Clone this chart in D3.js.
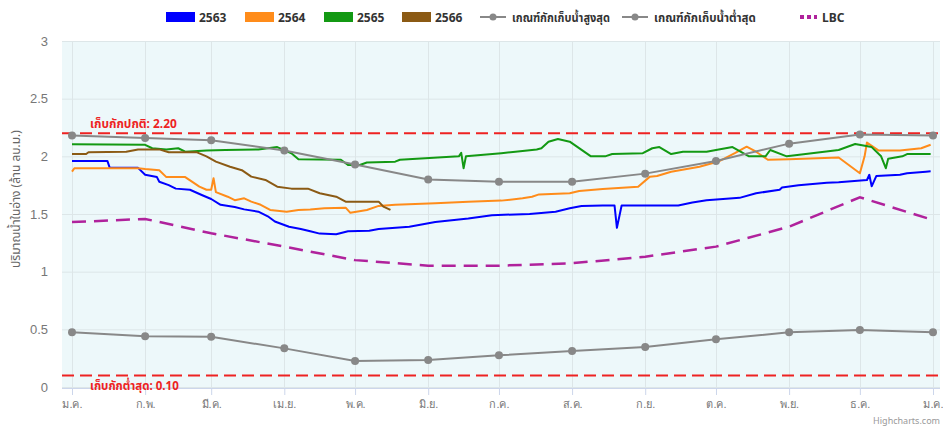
<!DOCTYPE html>
<html><head><meta charset="utf-8">
<script src="https://cdn.jsdelivr.net/npm/d3@7/dist/d3.min.js"></script>
<style>
html,body{margin:0;padding:0;background:#fff;}
svg{display:block;font-family:"Noto Sans","Noto Sans Thai",Tahoma,sans-serif;}
</style></head><body>
<svg id="chart" width="943" height="429"></svg>
<script>
// ---------- DATA ----------
const monthLabels = ["ม.ค.","ก.พ.","มี.ค.","เม.ย.","พ.ค.","มิ.ย.","ก.ค.","ส.ค.","ก.ย.","ต.ค.","พ.ย.","ธ.ค.","ม.ค."];
const yTicks = [0, 0.5, 1, 1.5, 2, 2.5, 3];
const ruleDates = ["2021-01-01","2021-02-01","2021-03-01","2021-04-01","2021-05-01","2021-06-01","2021-07-01","2021-08-01","2021-09-01","2021-10-01","2021-11-01","2021-12-01","2022-01-01"];
const ruleMax = [2.18, 2.16, 2.14, 2.05, 1.93, 1.80, 1.78, 1.78, 1.85, 1.96, 2.11, 2.19, 2.18];
const ruleMin = [0.474, 0.44, 0.435, 0.335, 0.225, 0.234, 0.275, 0.312, 0.347, 0.414, 0.474, 0.494, 0.474];
const lbc = [1.43, 1.457, 1.333, 1.217, 1.10, 1.052, 1.052, 1.073, 1.13, 1.217, 1.39, 1.645, 1.448];
const normalLevel = 2.20;
const minLevel = 0.10;

const s2563 = [["01-01",1.96],["01-16",1.96],["01-17",1.90],["01-29",1.90],["02-01",1.84],["02-06",1.82],["02-07",1.78],["02-11",1.75],["02-14",1.72],["02-20",1.71],["02-25",1.665],["03-01",1.63],["03-05",1.58],["03-11",1.56],["03-15",1.54],["03-21",1.52],["03-25",1.48],["03-28",1.435],["04-03",1.39],["04-08",1.37],["04-12",1.35],["04-16",1.33],["04-23",1.325],["04-28",1.35],["05-07",1.355],["05-11",1.37],["05-24",1.39],["06-04",1.43],["06-18",1.46],["06-28",1.49],["07-14",1.50],["07-25",1.52],["07-31",1.55],["08-05",1.57],["08-14",1.573],["08-19",1.573],["08-20",1.38],["08-22",1.573],["09-15",1.573],["09-21",1.60],["09-27",1.62],["10-11",1.64],["10-18",1.68],["10-28",1.71],["10-29",1.73],["11-05",1.75],["11-17",1.77],["11-22",1.775],["12-04",1.795],["12-05",1.84],["12-06",1.74],["12-08",1.83],["12-18",1.84],["12-21",1.853],["12-29",1.867],["12-31",1.87]];
const s2564 = [["01-01",1.867],["01-02",1.897],["01-29",1.897],["02-01",1.89],["02-07",1.88],["02-10",1.82],["02-18",1.82],["02-24",1.737],["02-27",1.71],["03-01",1.71],["03-02",1.81],["03-03",1.69],["03-08",1.65],["03-11",1.62],["03-15",1.636],["03-18",1.607],["03-22",1.58],["03-26",1.535],["04-02",1.52],["04-07",1.535],["04-12",1.54],["04-18",1.55],["04-27",1.555],["04-29",1.51],["05-06",1.535],["05-11",1.57],["05-18",1.58],["06-04",1.593],["06-18",1.607],["07-02",1.616],["07-11",1.636],["07-15",1.65],["07-18",1.67],["07-31",1.68],["08-04",1.70],["08-14",1.717],["08-29",1.737],["09-03",1.824],["09-06",1.83],["09-12",1.867],["09-24",1.91],["10-02",1.955],["10-09",2.027],["10-14",2.084],["10-18",2.04],["10-23",1.97],["11-01",1.975],["11-22",1.99],["12-01",1.853],["12-03",2.0],["12-04",2.12],["12-09",2.05],["12-18",2.05],["12-27",2.07],["12-31",2.10]];
const s2565 = [["01-01",2.105],["02-01",2.10],["02-04",2.07],["02-10",2.06],["02-15",2.07],["02-18",2.04],["02-27",2.05],["03-07",2.055],["03-21",2.06],["03-29",2.08],["04-04",2.027],["04-07",1.975],["04-25",1.97],["04-28",1.925],["05-03",1.925],["05-06",1.946],["05-18",1.954],["05-20",1.97],["06-14",2.0],["06-15",2.03],["06-16",1.897],["06-17",2.0],["07-02",2.027],["07-08",2.04],["07-17",2.06],["07-19",2.07],["07-22",2.127],["07-26",2.15],["07-31",2.127],["08-09",2.0],["08-15",2.0],["08-18",2.02],["08-31",2.027],["09-04",2.07],["09-07",2.08],["09-12",2.02],["09-17",2.04],["09-27",2.04],["10-01",2.055],["10-08",2.08],["10-15",2.0],["10-22",2.0],["10-24",2.055],["10-31",2.0],["11-08",2.02],["11-22",2.055],["11-29",2.107],["12-06",2.08],["12-10",2.0],["12-12",1.897],["12-13",1.98],["12-19",2.0],["12-21",2.02],["12-31",2.02]];
const s2566 = [["01-01",2.02],["01-07",2.02],["01-08",2.035],["01-24",2.04],["01-29",2.06],["02-07",2.06],["02-11",2.035],["02-23",2.035],["02-27",2.0],["03-03",1.954],["03-09",1.91],["03-14",1.88],["03-18",1.824],["03-24",1.795],["03-29",1.737],["04-04",1.72],["04-11",1.72],["04-16",1.68],["04-23",1.65],["04-27",1.607],["05-11",1.607],["05-13",1.564],["05-16",1.535]];

const seriesNames = ["2563","2564","2565","2566"];
const seriesColors = ["#0000ff","#ff8c1a","#139913","#8b5a14"];
const seriesData = [s2563, s2564, s2565, s2566];

// ---------- LAYOUT ----------
const svg = d3.select("#chart");
const parse = d3.timeParse("%Y-%m-%d");
const plot = {left:62, right:940, top:41, bottom:388};
const x = d3.scaleTime().domain([parse("2021-01-01"), parse("2022-01-01")]).range([72, 933]);
const y = d3.scaleLinear().domain([0, 3]).range([387, 41]);

// squeeze text horizontally to a target width
function fitText(sel, baseTransform, targetW) {
  const w = sel.node().getBBox().width;
  const s = w > 0 ? targetW / w : 1;
  sel.attr("transform", `${baseTransform} scale(${s},1)`);
}

svg.append("rect").attr("x", plot.left).attr("y", plot.top)
  .attr("width", plot.right - plot.left).attr("height", plot.bottom - plot.top)
  .attr("fill", "#edf8fa");

// grid
const monthTicks = ruleDates.map(parse);
svg.append("g").selectAll("line").data(yTicks).join("line")
  .attr("x1", plot.left).attr("x2", plot.right)
  .attr("y1", d => y(d) + 0.5).attr("y2", d => y(d) + 0.5)
  .attr("stroke", "#dde6e8").attr("stroke-width", 1);
svg.append("g").selectAll("line").data(monthTicks).join("line")
  .attr("x1", d => Math.round(x(d)) + 0.5).attr("x2", d => Math.round(x(d)) + 0.5)
  .attr("y1", plot.top).attr("y2", plot.bottom)
  .attr("stroke", "#dde6e8").attr("stroke-width", 1);

// x axis
const xAxis = d3.axisBottom(x).tickValues(monthTicks).tickSize(7)
  .tickFormat((d, i) => monthLabels[i]);
const gx = svg.append("g").attr("transform", `translate(0,${plot.bottom})`).call(xAxis);
gx.select(".domain").attr("stroke", "#ccd6eb").attr("d", `M${plot.left},0.5H${plot.right}`);
gx.selectAll(".tick line").attr("stroke", "#ccd6eb");
gx.selectAll(".tick text").attr("fill", "#777").attr("font-size", 11).attr("dy", "0.95em")
  .attr("font-family", "inherit");

// y axis
const yAxis = d3.axisLeft(y).tickValues(yTicks).tickSize(0).tickPadding(0)
  .tickFormat(d3.format("~g"));
const gy = svg.append("g").attr("transform", `translate(48,0)`).call(yAxis);
gy.select(".domain").remove();
gy.selectAll(".tick text").attr("fill", "#777").attr("font-size", 13).attr("font-family", "inherit");

const yTitle = svg.append("text")
  .attr("text-anchor", "middle").attr("fill", "#666").attr("font-size", 13)
  .text("ปริมาณน้ำในอ่าง (ล้าน ลบ.ม.)");
fitText(yTitle, "translate(20,199) rotate(-90)", 138);

// plot lines
svg.append("line").attr("x1", plot.left).attr("x2", plot.right)
  .attr("y1", y(normalLevel)).attr("y2", y(normalLevel))
  .attr("stroke", "#ee2222").attr("stroke-width", 2).attr("stroke-dasharray", "12,6");
svg.append("line").attr("x1", plot.left).attr("x2", plot.right)
  .attr("y1", y(minLevel)).attr("y2", y(minLevel))
  .attr("stroke", "#ee2222").attr("stroke-width", 2).attr("stroke-dasharray", "12,6");

// series
const line = d3.line().x(d => x(d[0])).y(d => y(d[1]));
const ruleDatesParsed = ruleDates.map(parse);

// LBC
svg.append("path").datum(ruleDatesParsed.map((d, i) => [d, lbc[i]]))
  .attr("d", line).attr("fill", "none").attr("stroke", "#b0229c")
  .attr("stroke-width", 2.5).attr("stroke-dasharray", "14,8");

seriesData.forEach((s, i) => {
  const pts = s.map(([md, v]) => [parse("2021-" + md), v]);
  svg.append("path").datum(pts).attr("d", line).attr("fill", "none")
    .attr("stroke", seriesColors[i]).attr("stroke-width", 2).attr("stroke-linejoin", "round");
});

[ruleMax, ruleMin].forEach(vals => {
  const pts = ruleDatesParsed.map((d, i) => [d, vals[i]]);
  svg.append("path").datum(pts).attr("d", line).attr("fill", "none")
    .attr("stroke", "#888").attr("stroke-width", 2);
  svg.append("g").selectAll("circle").data(pts).join("circle")
    .attr("cx", d => x(d[0])).attr("cy", d => y(d[1])).attr("r", 4).attr("fill", "#888");
});

// plot line labels
const lab1 = svg.append("text")
  .attr("fill", "#ee2222").attr("font-size", 12).attr("font-weight", "bold")
  .text("เก็บกักปกติ: 2.20");
fitText(lab1, `translate(90,${y(normalLevel) - 5})`, 87);
const lab2 = svg.append("text")
  .attr("fill", "#ee2222").attr("font-size", 12).attr("font-weight", "bold")
  .text("เก็บกักต่ำสุด: 0.10");
fitText(lab2, `translate(90,${y(minLevel) + 15})`, 89);

// legend
const lg = svg.append("g").attr("font-size", 12).attr("font-weight", "bold").attr("fill", "#333");
const rectX = [166, 245, 324, 402];
seriesNames.forEach((n, i) => {
  lg.append("rect").attr("x", rectX[i]).attr("y", 12).attr("width", 29).attr("height", 10)
    .attr("fill", seriesColors[i]);
  lg.append("text").attr("x", rectX[i] + 33).attr("y", 21.5).text(n);
});
const ruleLeg = [[480, "เกณฑ์กักเก็บน้ำสูงสุด", 98], [622, "เกณฑ์กักเก็บน้ำต่ำสุด", 102]];
ruleLeg.forEach(([lx, t, w]) => {
  lg.append("line").attr("x1", lx).attr("x2", lx + 26).attr("y1", 17).attr("y2", 17)
    .attr("stroke", "#888").attr("stroke-width", 2);
  lg.append("circle").attr("cx", lx + 13).attr("cy", 17).attr("r", 3.5).attr("fill", "#888");
  const tx = lg.append("text").text(t);
  fitText(tx, `translate(${lx + 32},21.5)`, w);
});
lg.append("line").attr("x1", 800).attr("x2", 817).attr("y1", 17).attr("y2", 17)
  .attr("stroke", "#b0229c").attr("stroke-width", 4).attr("stroke-dasharray", "4,3");
lg.append("text").attr("x", 822).attr("y", 21.5).text("LBC");

// credits
svg.append("text").attr("x", 940).attr("y", 424).attr("text-anchor", "end")
  .attr("fill", "#999").attr("font-size", 9).text("Highcharts.com");
</script>
</body></html>
